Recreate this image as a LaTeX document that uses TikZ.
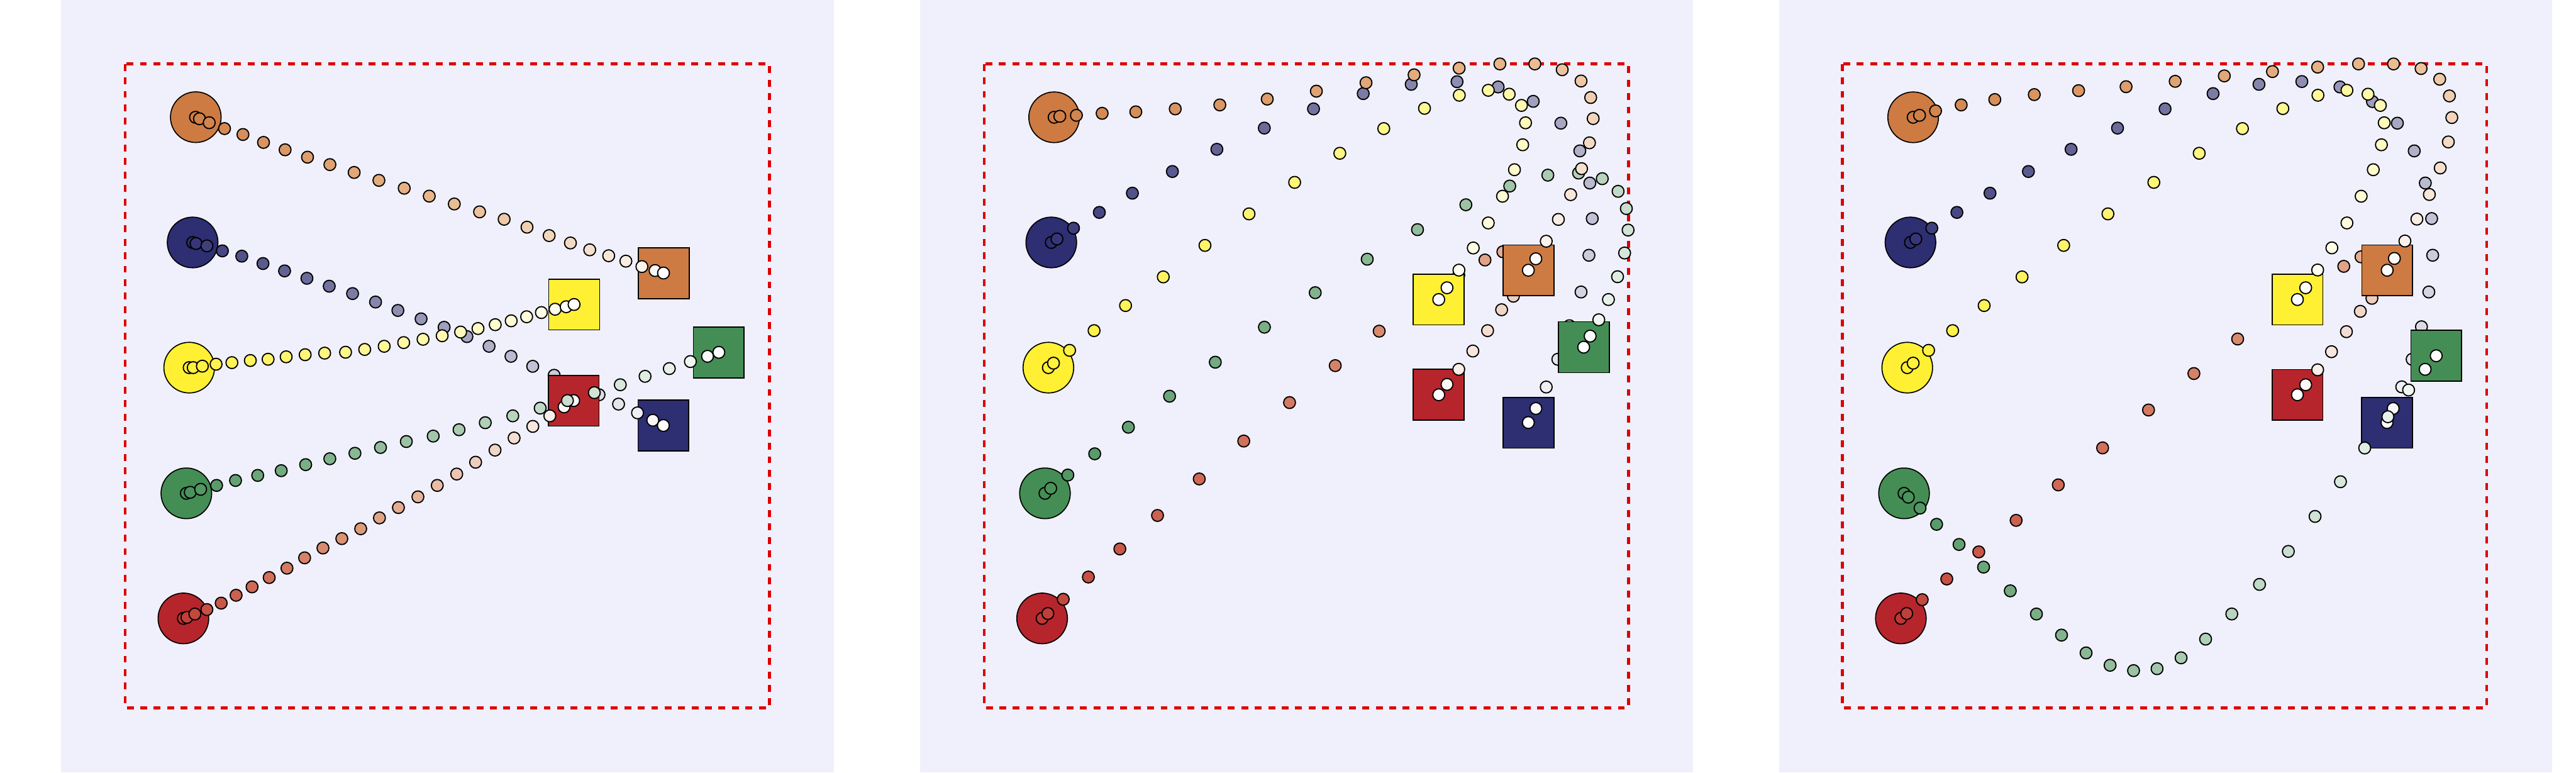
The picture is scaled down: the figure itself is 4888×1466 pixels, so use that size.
\documentclass[tikz,border=0pt]{standalone}
\definecolor{bgc}{RGB}{240,240,252}
\definecolor{boxred}{RGB}{221,0,0}
\definecolor{cOr}{RGB}{205,123,67}
\definecolor{cOrM}{RGB}{232,182,138}
\definecolor{cNv}{RGB}{46,46,114}
\definecolor{cYe}{RGB}{255,240,52}
\definecolor{cGr}{RGB}{68,142,85}
\definecolor{cRd}{RGB}{183,37,44}
\definecolor{cRdT}{RGB}{190,55,50}
\definecolor{cRdM}{RGB}{222,155,122}
\tikzset{
  bound/.style={draw=boxred, line width=0.057cm, dash pattern=on 0.13cm off 0.125cm},
  agent/.style={circle, draw=black, line width=0.02cm, minimum size=0.96cm, inner sep=0pt, outer sep=0pt},
  goal/.style={rectangle, draw=black, line width=0.02cm, minimum size=0.963cm, inner sep=0pt, outer sep=0pt},
  dot/.style={circle, draw=black, line width=0.022cm, minimum size=0.225cm, inner sep=0pt, outer sep=0pt},
}
% linear fade: colour -> white
\newcommand\trail[3]{%
  \foreach \xx/\yy [count=\kk from 0] in {#3}{%
    \pgfmathtruncatemacro\pp{round(100*(1-\kk/24))}%
    \node[dot, fill=#2!\pp!white] (#1-\kk) at (\xx,\yy) {};
  }}
% two-stage fade: start colour -> middle colour -> white
\newcommand\trailmid[4]{%
  \foreach \xx/\yy [count=\kk from 0] in {#4}{%
    \ifnum\kk<12
      \pgfmathtruncatemacro\pp{round(100*(1-\kk/12))}%
      \def\tcol{#2!\pp!#3}%
    \else
      \pgfmathtruncatemacro\pp{round(100*(1-(\kk-12)/12))}%
      \def\tcol{#3!\pp!white}%
    \fi
    \node[dot, fill=\tcol] (#1-\kk) at (\xx,\yy) {};
  }}
\begin{document}
\begin{tikzpicture}[x=0.01cm, y=-0.01cm]
\useasboundingbox (0,0) rectangle (4888,1466);
\fill[white] (0,0) rectangle (4888,1466);
\fill[bgc] (116,0) rectangle (1582,1466);
\fill[bgc] (1746,0) rectangle (3212,1466);
\fill[bgc] (3376,0) rectangle (4842,1466);
\draw[bound] (237.5,121.5) rectangle (1460.5,1343);
\draw[bound] (1867.5,121.5) rectangle (3090.5,1343);
\draw[bound] (3496,121.5) rectangle (4718.5,1343);

% ---------------- panel 1 ----------------
\node[agent, fill=cOr] (p1-so) at (371.5,222.3) {};
\node[agent, fill=cNv] (p1-sn) at (365.5,460) {};
\node[agent, fill=cYe] (p1-sy) at (359,697.5) {};
\node[agent, fill=cGr] (p1-sg) at (353.6,936) {};
\node[agent, fill=cRd] (p1-sr) at (348,1173.3) {};
\node[goal, fill=cNv] (p1-gn) at (1258.8,807.5) {};
\trail{p1n}{cNv}{365.5/460, 372/462, 392.6/466.5, 422/476, 458.8/486, 499/500, 540/514, 582.4/528, 624.7/543, 669/557, 712.6/573, 755/589, 799/605, 842.7/621, 886/638.6, 928/657, 969.6/676, 1010.8/695, 1051.5/712, 1095/730, 1136.7/749, 1173.7/766.7, 1209.7/783.3, 1238.7/797.3, 1258.7/807.3}
\node[goal, fill=cRd] (p1-gr) at (1088.5,760.2) {};
\trailmid{p1r}{cRdT}{cRdM}{348/1173.3, 354.7/1171.4, 369.8/1165, 392.6/1156.5, 419.7/1144.3, 448/1129.4, 478.3/1113.5, 510.8/1095.8, 544.5/1078, 578/1058.4, 612.8/1039.7, 648.6/1021.9, 684.4/1003.2, 720/982.6, 756/963, 793/942.7, 829.7/921, 866.6/899.4, 902.5/877, 939.3/854, 975.5/831, 1011/809, 1043.3/789, 1070.3/772, 1088.5/760}
\node[goal, fill=cGr] (p1-gg) at (1363.8,668.7) {};
\trail{p1g}{cGr}{353.6/936, 361/934, 380.7/928.4, 411/921, 446.9/911.6, 489/902, 533.6/893, 580/881.6, 625.8/870.4, 673.5/860, 722/849, 771/837.7, 822/827.4, 871/815.3, 920.8/802, 973/789, 1025/774.3, 1076.7/760, 1127.7/745, 1177/730, 1224/714, 1270/699.3, 1310/686, 1342.5/676, 1364/668.5}
\node[goal, fill=cYe] (p1-gy) at (1089.5,577.8) {};
\trail{p1y}{cYe}{359/697.5, 366.6/697.5, 384/694.7, 410/691, 440/688, 475/684, 508.7/681.6, 543/677, 579/673, 616/670, 655.7/668.3, 692/663, 729/657, 766/650, 802.7/643.7, 839/637, 874/630, 907/623.3, 939.7/616, 970/608.7, 999.3/601, 1027.3/593, 1053.3/586.7, 1074.3/582, 1089.3/577.7}
\node[goal, fill=cOr] (p1-go) at (1259.5,518.7) {};
\trailmid{p1o}{cOr}{cOrM}{371/222.5, 378.5/225.3, 397/232.8, 426/244, 461/255.2, 500/270.2, 541/284.2, 583.5/298.2, 626/312.3, 672/327.2, 719/342.2, 767/357.1, 814.5/372.1, 862/387, 910/402, 956.6/416, 1000/431, 1042/447, 1082.4/461, 1119/474, 1155/485.2, 1187.6/495.5, 1218/505.8, 1243/513.3, 1259/518}

% ---------------- panel 2 ----------------
\node[agent, fill=cOr] (p2-so) at (2000.2,222.5) {};
\node[agent, fill=cNv] (p2-sn) at (1994.8,460) {};
\node[agent, fill=cYe] (p2-sy) at (1989.3,697.5) {};
\node[agent, fill=cGr] (p2-sg) at (1982.8,936) {};
\node[agent, fill=cRd] (p2-sr) at (1977.4,1173.3) {};
\node[goal, fill=cNv] (p2-gn) at (2900.2,802.2) {};
\trail{p2n}{cNv}{1994.8/460, 2005.6/453.4, 2037/432.9, 2086/403, 2148.7/366.5, 2224.6/325.4, 2309/283.3, 2399/243, 2492.4/206.6, 2586.7/177.6, 2677.8/160, 2764.7/155, 2842.7/165, 2909.3/192.3, 2961.7/233.7, 2997.7/286.3, 3016.7/347.3, 3021.3/414.7, 3015/484.3, 3000/554, 2978/618, 2956/681.7, 2934/734.3, 2914.3/775, 2900/801.7}
\node[goal, fill=cRd] (p2-gr) at (2729.8,748.8) {};
\trailmid{p2r}{cRdT}{cRdM}{1977.4/1173.3, 1988.3/1164, 2017.5/1137, 2065.2/1094.8, 2124.9/1041.5, 2196.4/978, 2275.6/908.7, 2360/836.8, 2446.9/763.8, 2533.6/693.7, 2617/628.3, 2705/566, 2768/522, 2817.7/493.3, 2851.7/477.7, 2878/492, 2890/520, 2884/545, 2871.7/562, 2849.3/587.7, 2822.7/627.3, 2794.7/666, 2768/700.7, 2745.7/729.3, 2730/749}
\node[goal, fill=cGr] (p2-gg) at (3005.2,658.7) {};
\trail{p2g}{cGr}{1982.8/936, 1993.7/926.5, 2026.2/901.3, 2077.2/861, 2141.1/810.6, 2219.2/751.7, 2306/687.2, 2399.2/620.8, 2495.6/555.3, 2594.3/491.8, 2689.7/435.7, 2781.5/388.5, 2864.7/353, 2937/332.3, 2995.3/328.3, 3040.3/339, 3070.3/363, 3086/395.7, 3089.3/436.5, 3082.7/480, 3069.3/525, 3052/568.3, 3033.7/606.7, 3017.3/637.7, 3005/658.7}
\node[goal, fill=cYe] (p2-gy) at (2729.8,568.3) {};
\trail{p2y}{cYe}{1989.3/697.5, 1999/689, 2029.5/664.7, 2076/627.3, 2135.7/579.7, 2207.3/525.4, 2286.4/465.6, 2370/405.8, 2456.6/346, 2542.3/290.8, 2625.7/244, 2703/205.5, 2769/180.7, 2824/171.3, 2863.7/178.7, 2887/200, 2894.7/233, 2889.3/274.7, 2873.7/322, 2851/372.3, 2824/423, 2795.5/470.5, 2768.3/512.5, 2745.7/546, 2730/568.3}
\node[goal, fill=cOr] (p2-go) at (2900.2,512.8) {};
\trailmid{p2o}{cOr}{cOrM}{2000.2/222.5, 2011/220.6, 2042.5/218.8, 2091.3/215, 2155.2/212.2, 2230/206.6, 2314.6/199.1, 2404.6/188, 2497.8/173, 2592/157, 2683.2/142, 2768.7/129.3, 2846/121.3, 2912.3/121.3, 2964.3/132.3, 3000/153.7, 3018.3/185, 3023/225, 3016/271, 3001/320, 2980.3/369.3, 2957/416.3, 2934/457.7, 2914.2/491, 2900/512.7}

% ---------------- panel 3 ----------------
\node[agent, fill=cOr] (p3-so) at (3630.2,222.5) {};
\node[agent, fill=cNv] (p3-sn) at (3625.1,460) {};
\node[agent, fill=cYe] (p3-sy) at (3619,697.5) {};
\node[agent, fill=cGr] (p3-sg) at (3612.9,936) {};
\node[agent, fill=cRd] (p3-sr) at (3606.9,1173.3) {};
\node[goal, fill=cNv] (p3-gn) at (4529.2,802) {};
\trail{p3n}{cNv}{3625.1/460, 3635.2/453.4, 3665.6/432.9, 3713.2/403, 3776/366.5, 3848.9/325.4, 3929.9/283.3, 4018/243, 4108.2/206.6, 4199.3/177.6, 4286.4/160, 4367.7/154.7, 4440/165, 4501.7/192.7, 4549/233.7, 4581/286.3, 4602/347.3, 4614/414.7, 4616/484.3, 4608.7/554, 4594.7/620, 4577/681.7, 4557.3/734, 4541/775, 4529.3/801.7}
\node[goal, fill=cRd] (p3-gr) at (4359.5,749.2) {};
\trailmid{p3r}{cRdT}{cRdM}{3606.9/1173.3, 3618/1164, 3647.4/1137.8, 3694/1098.5, 3754.7/1047.1, 3825.6/987.3, 3905.6/920, 3989.7/849.8, 4076.8/777.9, 4162.9/708.7, 4245.9/643.2, 4325/585, 4393/535, 4447.3/505.3, 4480/487.3, 4505/497, 4515/525, 4510/550, 4500.7/566, 4478.7/590.7, 4452.3/629.3, 4424/667.3, 4397.7/701.7, 4375/730, 4359.3/749}
\node[goal, fill=cGr] (p3-gg) at (4622.8,675) {};
\trail{p3g}{cGr}{3612.9/936, 3621/943.3, 3643.3/964, 3674.7/994.8, 3717.3/1033, 3763.8/1076, 3814.5/1121, 3864.1/1165, 3911.7/1205, 3958.3/1238.8, 4003.9/1262.2, 4048.4/1272.4, 4093/1268.7, 4138.6/1248.1, 4185.1/1212.6, 4234.8/1164.9, 4287.4/1108.8, 4342.1/1046.2, 4392.8/979.8, 4441/914, 4487/850, 4531/790.7, 4570.3/740, 4601.7/700.7, 4622.7/675}
\node[goal, fill=cYe] (p3-gy) at (4359.5,568.3) {};
\trail{p3y}{cYe}{3619/697.5, 3630.2/689, 3659.5/664.7, 3705.1/627.3, 3764.9/579.7, 3836.8/525.4, 3915.8/465.6, 3999.8/405.8, 4086.9/346, 4173/290.8, 4255/244, 4331.7/206, 4398.3/180.7, 4453.3/171.3, 4493.3/178.7, 4516.7/200, 4524/233, 4518.7/274.7, 4503.3/322, 4480.3/372.3, 4453.3/423, 4424.7/470.3, 4397.7/512.3, 4375/546, 4359.3/568.3}
\node[goal, fill=cOr] (p3-go) at (4529.7,512.8) {};
\trailmid{p3o}{cOr}{cOrM}{3630.2/222.5, 3642.3/218.8, 3672.7/210.4, 3721.3/199.1, 3785.1/188.9, 3860/179.5, 3944.1/172, 4034.2/164.5, 4127.4/154.3, 4220.6/144, 4312/135.8, 4397.7/127.3, 4475.3/121.3, 4541.7/121.3, 4594/130, 4629.3/150.3, 4647.7/182, 4652.3/223, 4645.7/269.3, 4630.3/318.7, 4609.7/369, 4586/415.7, 4563.3/457.3, 4543.3/490.3, 4529.7/512.7}
\end{tikzpicture}
\end{document}
